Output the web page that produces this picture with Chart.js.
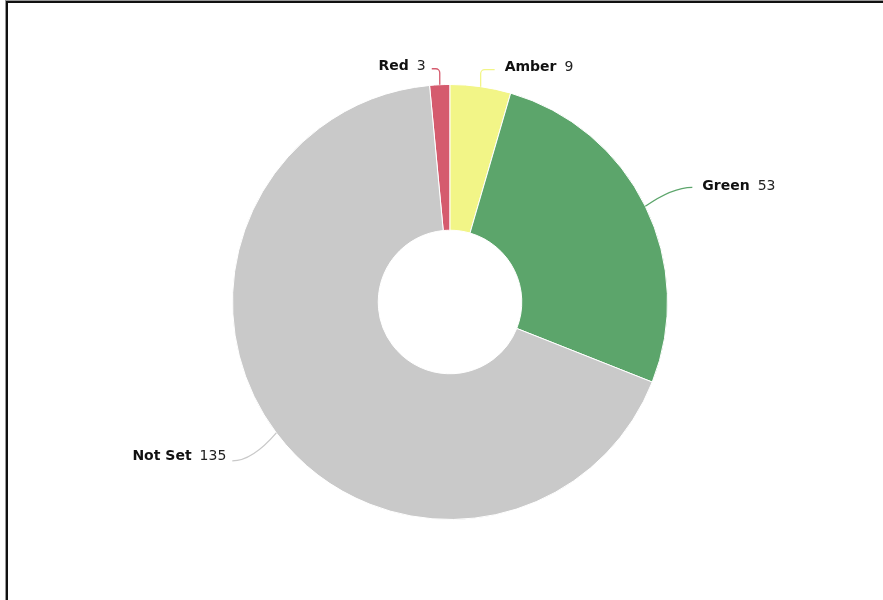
<!DOCTYPE html>
<html>
<head>
<meta charset="utf-8">
<script src="https://cdn.jsdelivr.net/npm/chart.js@4/dist/chart.umd.min.js"></script>
<style>
    html, body { margin: 0; padding: 0; background: #fff; overflow: hidden; }
    #frame { position: absolute; left: 6px; top: 1px; width: 1000px; height: 1000px; border-left: 2px solid #111; border-top: 2px solid #111; box-shadow: -1px -1px 0 #999; }
    #ragChart { position: absolute; left: 0; top: 0; }
</style>
</head>
<body>
<div id="frame"></div>
<canvas id="ragChart" width="883" height="600"></canvas>
<script>
const statuses = ['Red', 'Amber', 'Green', 'Not Set'];
const counts = [3, 9, 53, 135];
const sliceColours = ['#d55b6e', '#f2f587', '#5ca56b', '#c9c9c9'];

// where each leader line ends, relative to where it leaves the slice
const labelLayout = [
    { dx: -8, dy: -16, textDy: -2, bend: 4 },
    { dx: 14, dy: -17, textDy: -2, bend: 4 },
    { dx: 47, dy: -19, textDy: -1, bend: 20 },
    { dx: -44, dy: 28, textDy: -5, bend: 20, fromAngle: 233 }
];

const leaderLabels = {
    id: 'leaderLabels',
    afterDatasetsDraw(chart) {
        const ctx = chart.ctx;
        const meta = chart.getDatasetMeta(0);
        meta.data.forEach((arc, i) => {
            const layout = labelLayout[i];
            let angle = (arc.startAngle + arc.endAngle) / 2;
            if (layout.fromAngle !== undefined) {
                angle = (layout.fromAngle - 90) * Math.PI / 180;
            }
            const r = arc.outerRadius;
            const sx = arc.x + Math.cos(angle) * r;
            const sy = arc.y + Math.sin(angle) * r;
            const ex = sx + layout.dx;
            const ey = sy + layout.dy;
            const side = layout.dx < 0 ? -1 : 1;
            const cx = ex - side * Math.min(20, Math.abs(layout.dx));

            ctx.save();
            ctx.strokeStyle = sliceColours[i];
            ctx.lineWidth = 1.3;
            ctx.beginPath();
            ctx.moveTo(sx, sy);
            if (layout.bend < 10) {
                ctx.arcTo(sx, ey, ex, ey, layout.bend);
                ctx.lineTo(ex, ey);
            } else {
                ctx.quadraticCurveTo(cx, ey, ex, ey);
            }
            ctx.stroke();

            const name = statuses[i];
            const value = String(counts[i]);
            const gap = 8;
            ctx.textBaseline = 'middle';
            ctx.fillStyle = '#111';
            ctx.font = 'bold 14px "DejaVu Sans"';
            const nameW = ctx.measureText(name).width;
            ctx.font = '14px "DejaVu Sans"';
            const valueW = ctx.measureText(value).width;
            const ty = ey + layout.textDy;
            let tx = side > 0 ? ex + 10 : ex - 6 - nameW - gap - valueW;
            ctx.font = 'bold 14px "DejaVu Sans"';
            ctx.textAlign = 'left';
            ctx.fillText(name, tx, ty);
            ctx.font = '14px "DejaVu Sans"';
            ctx.fillStyle = '#222';
            ctx.fillText(value, tx + nameW + gap, ty);
            ctx.restore();
        });
    }
};

const context = document.getElementById('ragChart').getContext('2d');
new Chart(context, {
    type: 'doughnut',
    data: {
        labels: statuses,
        datasets: [{
            data: counts,
            backgroundColor: sliceColours,
            borderColor: '#ffffff',
            borderWidth: 1
        }]
    },
    options: {
        responsive: false,
        animation: false,
        cutout: '33%',
        rotation: -360 * counts[0] / counts.reduce((a, b) => a + b, 0),
        layout: {
            padding: { top: 84, bottom: 80, left: 232, right: 215 }
        },
        plugins: {
            legend: { display: false },
            tooltip: { enabled: false }
        }
    },
    plugins: [leaderLabels]
});
</script>
</body>
</html>
